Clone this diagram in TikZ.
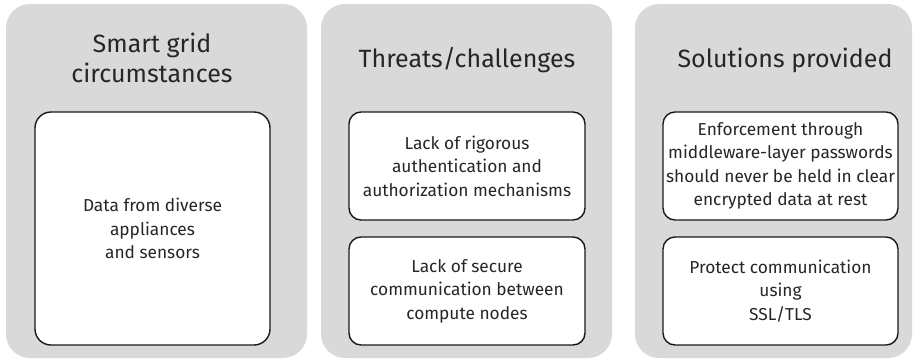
\documentclass[tikz,border=0pt]{standalone}
\usepackage{fontspec}
\setmainfont{Fira Sans}
\usetikzlibrary{positioning}

\begin{document}
\begin{tikzpicture}[x=1pt, y=-1pt,
  panel/.style={fill=black!15, rounded corners=24pt, inner sep=0pt},
  title/.style={font=\fontsize{25}{30}\selectfont, align=center, text=black!85},
  item/.style={draw=black!90, line width=1.4pt, fill=white, rounded corners=12pt,
    inner sep=0pt, font=\fontsize{17.3}{23.5}\selectfont, align=center, text=black!85}]
  \useasboundingbox (0,0) rectangle (917,362);

  % three grey columns
  \node[panel, minimum width=301pt, minimum height=354pt] (circ)   at (156.5,181) {};
  \node[panel, minimum width=291pt, minimum height=354pt] (threat) at (466.5,181) {};
  \node[panel, minimum width=277pt, minimum height=354pt] (solut)  at (773.5,181) {};

  % headings
  \node[title] (circT)   at (152,58) {Smart grid\\circumstances};
  \node[title] (threatT) at (467,60) {Threats/challenges};
  \node[title] (solutT)  at (785,60) {Solutions provided};

  % boxes
  \node[item, rounded corners=16pt, minimum width=235pt, minimum height=233pt] (data) at (152.5,228.5)
    {Data from diverse\\appliances\\and sensors};
  \node[item, minimum width=236pt, minimum height=108pt] (auth) at (467,166)
    {Lack of rigorous\\authentication and\\authorization mechanisms};
  \node[item, minimum width=236pt, minimum height=108pt] (comm) at (467,291)
    {Lack of secure\\communication between\\compute nodes};
  \node[item, minimum width=235pt, minimum height=108pt] (enf) at (780.5,166)
    {Enforcement through\\middleware-layer passwords\\should never be held in clear\\encrypted data at rest};
  \node[item, minimum width=235pt, minimum height=108pt] (ssl) at (780.5,291)
    {Protect communication\\using\\SSL/TLS};
\end{tikzpicture}
\end{document}
